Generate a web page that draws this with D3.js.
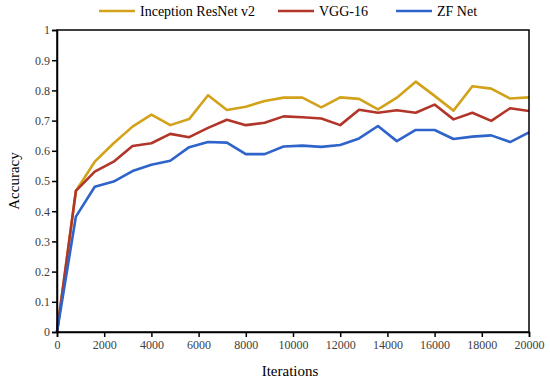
<!DOCTYPE html>
<html><head><meta charset="utf-8">
<script src="https://cdn.jsdelivr.net/npm/d3@7"></script>
<style>body{margin:0;background:#fff}svg{display:block}</style>
</head><body>
<svg id="c" width="550" height="383"></svg>
<script>
const iterations = d3.range(0, 20001, 800);
const seriesNames = ["Inception ResNet v2", "VGG-16", "ZF Net"];
const inception = [0, 0.467, 0.564, 0.625, 0.68, 0.72, 0.685, 0.705, 0.784, 0.735, 0.746, 0.765, 0.776,
  0.776, 0.744, 0.777, 0.772, 0.737, 0.776, 0.829, 0.782, 0.733, 0.814, 0.806, 0.773, 0.777];
const vgg16 = [0, 0.467, 0.531, 0.564, 0.616, 0.625, 0.656, 0.645, 0.676, 0.703, 0.685, 0.693, 0.714,
  0.711, 0.707, 0.685, 0.736, 0.726, 0.734, 0.726, 0.753, 0.704, 0.726, 0.699, 0.741, 0.732];
const zfnet = [0, 0.382, 0.481, 0.498, 0.533, 0.554, 0.567, 0.612, 0.629, 0.627, 0.589, 0.589, 0.614,
  0.617, 0.613, 0.619, 0.641, 0.682, 0.632, 0.669, 0.669, 0.639, 0.647, 0.651, 0.629, 0.661];
const colors = ["#D2A21A", "#B2352A", "#2E63C9"];
const xTicks = d3.range(0, 20001, 2000);
const yTicks = d3.range(0, 11).map(d => d / 10);

(function () {
const svg = d3.select("#c");
const font = "'Liberation Serif', 'DejaVu Serif', serif";
const mL = 57, mR = 529, mT = 30, mB = 332;
const x = d3.scaleLinear().domain([0, 20000]).range([mL, mR]);
const y = d3.scaleLinear().domain([0, 1]).range([mB, mT]);

const allSeries = [inception, vgg16, zfnet];
const line = d3.line().x((d, i) => x(iterations[i])).y(d => y(d));
allSeries.forEach((s, k) => {
  svg.append("path").datum(s).attr("d", line).attr("fill", "none")
    .attr("stroke", colors[k]).attr("stroke-width", 2.6).attr("stroke-linejoin", "round");
});

svg.append("rect").attr("x", mL).attr("y", mT).attr("width", mR - mL).attr("height", mB - mT)
  .attr("fill", "none").attr("stroke", "#000").attr("stroke-width", 1.5);

const xAxis = svg.append("g").attr("transform", `translate(0,${mB})`)
  .call(d3.axisBottom(x).tickValues(xTicks).tickFormat(d3.format("d")).tickSize(5).tickPadding(3));
const yAxis = svg.append("g").attr("transform", `translate(${mL},0)`)
  .call(d3.axisLeft(y).tickValues(yTicks).tickFormat(d => d === 0 ? "0" : d === 1 ? "1" : d3.format(".1f")(d)).tickSize(5).tickPadding(2));
[xAxis, yAxis].forEach(a => {
  a.select(".domain").attr("stroke", "#000").attr("stroke-width", 1.5);
  a.selectAll(".tick line").attr("stroke", "#000").attr("stroke-width", 1.5);
  a.selectAll(".tick text").attr("font-family", font).attr("font-size", 12).attr("fill", "#404040");
});

svg.append("text").attr("x", 290).attr("y", 376).attr("text-anchor", "middle")
  .attr("font-family", font).attr("font-size", 15).attr("fill", "#000").text("Iterations");
svg.append("text").attr("transform", "translate(19,181) rotate(-90)").attr("text-anchor", "middle")
  .attr("font-family", font).attr("font-size", 15).attr("fill", "#000").text("Accuracy");

const legX = [99, 278, 396];
seriesNames.forEach((n, k) => {
  svg.append("line").attr("x1", legX[k]).attr("x2", legX[k] + 36).attr("y1", 11).attr("y2", 11)
    .attr("stroke", colors[k]).attr("stroke-width", 2.6);
  svg.append("text").attr("x", legX[k] + 41).attr("y", 15.5).attr("font-family", font)
    .attr("font-size", 14).attr("fill", "#000").text(n);
});
})();
</script>
</body></html>
